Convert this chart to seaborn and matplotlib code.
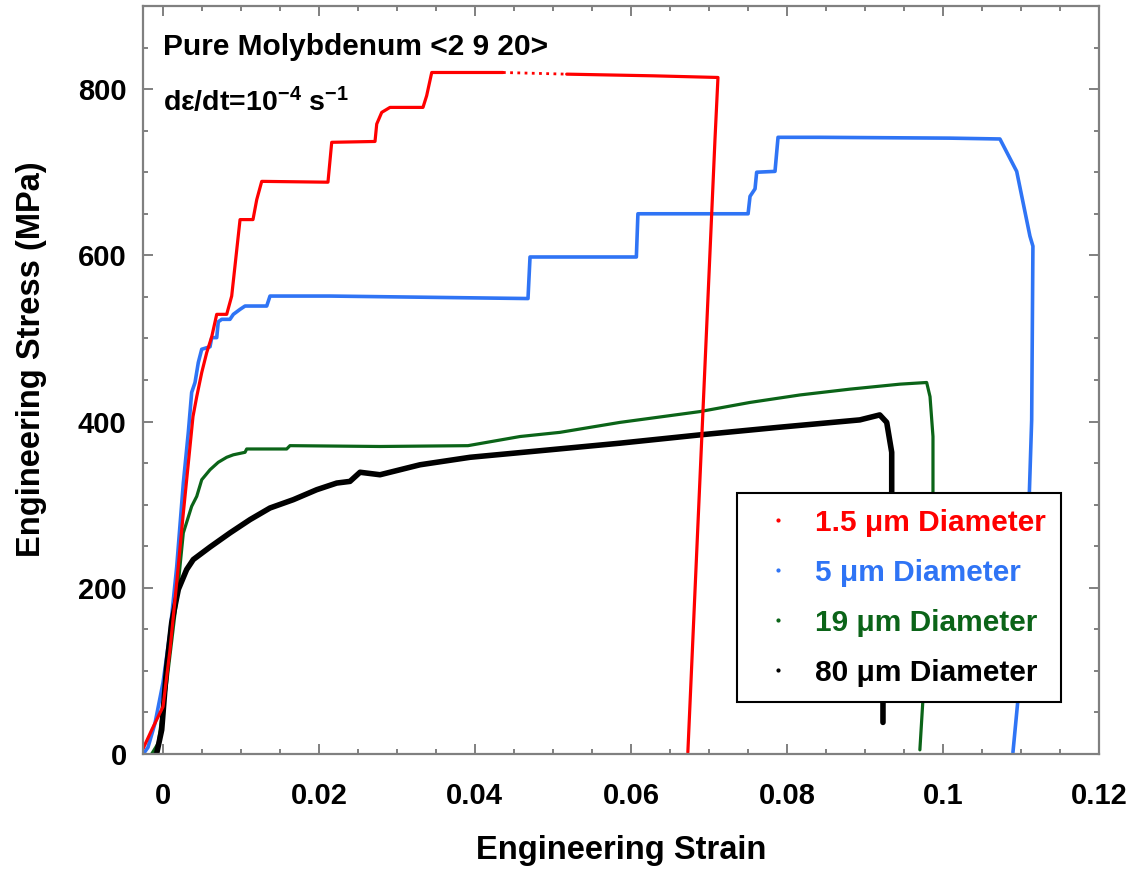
import matplotlib
matplotlib.use("Agg")
import matplotlib.pyplot as plt
from matplotlib.lines import Line2D
from matplotlib.ticker import MultipleLocator, FuncFormatter
import seaborn as sns

# Stress-strain data (engineering strain, engineering stress in MPa)
strain_1p5 = [-0.0025, -0.00142, 0.00003, 0.00092, 0.00178, 0.00259, 0.00323, 0.00387,
              0.00435, 0.00499, 0.00563, 0.00627, 0.00691, 0.00819, 0.00883, 0.00925,
              0.0099, 0.01156, 0.01204, 0.01268, 0.02117, 0.02165, 0.0272, 0.02742,
              0.02806, 0.02912, 0.03335, 0.03382, 0.03447, 0.03848, 0.0436]
stress_1p5 = [7, 29, 57, 125, 206, 286, 346, 406,
              430, 459, 483, 502, 529, 529, 551, 587,
              643, 643, 667, 689, 688, 736, 737, 758,
              772, 778, 778, 792, 820, 820, 820]
# sparse stretch of the 1.5 um record
strain_1p5_sparse = [0.0436, 0.05177]
stress_1p5_sparse = [820, 818]
strain_1p5_end = [0.05177, 0.06283, 0.07116, 0.07078, 0.0673]
stress_1p5_end = [818, 816, 814, 740, 2]

strain_5 = [-0.0025, -0.0019, -0.001, 0.00003, 0.00092, 0.00178, 0.00263, 0.00327,
            0.0037, 0.00413, 0.00455, 0.00499, 0.00605, 0.00627, 0.00691, 0.00711,
            0.00755, 0.00861, 0.00904, 0.0099, 0.01054, 0.01332, 0.01374, 0.02143,
            0.04681, 0.04707, 0.0607, 0.0609, 0.07502, 0.07527, 0.07591, 0.07612,
            0.07847, 0.07886, 0.08425, 0.1009, 0.1073, 0.10945, 0.11115, 0.11153,
            0.11137, 0.1108, 0.10985, 0.10897]
stress_5 = [0, 8, 37, 86, 146, 225, 326, 387,
            435, 447, 471, 487, 490, 501, 501, 520,
            523, 523, 529, 535, 539, 539, 551, 551,
            548, 598, 598, 650, 650, 671, 680, 700,
            701, 742, 742, 741, 740, 701, 623, 611,
            402, 234, 89, 2]

strain_19 = [-0.00143, -0.00058, 0.0005, 0.00178, 0.00263, 0.0037, 0.00435, 0.00499,
             0.00605, 0.00711, 0.00819, 0.00904, 0.01054, 0.01075, 0.01588, 0.0163,
             0.02784, 0.03912, 0.04579, 0.0509, 0.0586, 0.06885, 0.07526, 0.08167,
             0.08808, 0.09449, 0.09791, 0.09834, 0.09872, 0.09872, 0.09743, 0.09704]
stress_19 = [0, 13, 86, 186, 266, 298, 310, 330,
             342, 351, 357, 360, 363, 367, 367, 371,
             370, 371, 382, 387, 399, 412, 423, 432,
             439, 445, 447, 430, 382, 316, 65, 5]

strain_80 = [-0.0008, -0.00014, 0.0005, 0.00114, 0.00199, 0.00306, 0.00391, 0.00605,
             0.00861, 0.01118, 0.01374, 0.01673, 0.01973, 0.02229, 0.02399, 0.02528,
             0.02784, 0.03297, 0.03938, 0.0496, 0.05862, 0.06887, 0.07884, 0.08935,
             0.0919, 0.09279, 0.09343, 0.09343, 0.09231, 0.09231]
stress_80 = [0, 29, 105, 158, 198, 222, 234, 249,
             266, 282, 296, 306, 318, 326, 328, 339,
             336, 348, 357, 366, 374, 384, 393, 402,
             408, 399, 363, 316, 61, 38]

labels = ["1.5 \u03bcm Diameter", "5 \u03bcm Diameter", "19 \u03bcm Diameter", "80 \u03bcm Diameter"]
colors = ["#ff0000", "#2f74f5", "#0b6418", "#000000"]

sns.set_style("ticks")
plt.rcParams["font.family"] = ["Liberation Sans", "DejaVu Sans"]
plt.rcParams["font.weight"] = "bold"
plt.rcParams["text.color"] = "black"
plt.rcParams["axes.labelcolor"] = "black"
plt.rcParams["xtick.labelcolor"] = "black"
plt.rcParams["ytick.labelcolor"] = "black"
plt.rcParams["mathtext.fontset"] = "custom"
plt.rcParams["mathtext.rm"] = "Liberation Sans:bold"
plt.rcParams["mathtext.it"] = "Liberation Sans:bold"
plt.rcParams["mathtext.bf"] = "Liberation Sans:bold"

fig = plt.figure(figsize=(11.41, 8.73), dpi=100)
ax = fig.add_axes([0.12559, 0.13631, 0.83760, 0.85682])

lw = 2.3
sns.lineplot(x=strain_19, y=stress_19, color=colors[2], linewidth=lw, sort=False,
             estimator=None, ax=ax)
sns.lineplot(x=strain_5, y=stress_5, color=colors[1], linewidth=lw + 0.3, sort=False,
             estimator=None, ax=ax)
sns.lineplot(x=strain_80, y=stress_80, color=colors[3], linewidth=4.0, sort=False,
             estimator=None, ax=ax)
sns.lineplot(x=strain_1p5, y=stress_1p5, color=colors[0], linewidth=lw, sort=False,
             estimator=None, ax=ax)
sns.lineplot(x=strain_1p5_sparse, y=stress_1p5_sparse, color=colors[0], linewidth=2.0,
             linestyle=(0, (1, 1.6)), sort=False, estimator=None, ax=ax)
sns.lineplot(x=strain_1p5_end, y=stress_1p5_end, color=colors[0], linewidth=lw, sort=False,
             estimator=None, ax=ax)

ax.set_xlim(-0.0025, 0.12)
ax.set_ylim(0, 900)
ax.xaxis.set_major_locator(MultipleLocator(0.02))
ax.xaxis.set_minor_locator(MultipleLocator(0.005))
ax.yaxis.set_major_locator(MultipleLocator(200))
ax.yaxis.set_minor_locator(MultipleLocator(50))
ax.xaxis.set_major_formatter(FuncFormatter(lambda v, p: f"{round(v, 4):g}"))
ax.yaxis.set_major_formatter(FuncFormatter(lambda v, p: f"{v:g}"))

spine_c = "#808080"
for s in ax.spines.values():
    s.set_color(spine_c)
    s.set_linewidth(1.6)
    s.set_visible(True)
ax.tick_params(which="both", direction="in", top=True, right=True, color=spine_c, width=1.4)
ax.tick_params(which="major", length=7.2)
ax.tick_params(which="minor", length=3.6)
ax.tick_params(axis="x", which="major", pad=20, labelsize=21)
ax.tick_params(axis="y", which="major", pad=12, labelsize=21)
for t in ax.get_xticklabels() + ax.get_yticklabels():
    t.set_fontweight("bold")

ax.set_xlabel("Engineering Strain", fontsize=23.5, fontweight="bold", labelpad=18)
ax.set_ylabel("Engineering Stress (MPa)", fontsize=23.5, fontweight="bold")
ax.yaxis.set_label_coords(-0.1008, 0.528)

ax.text(0.021, 0.945, "Pure Molybdenum <2 9 20>", transform=ax.transAxes, fontsize=21.5,
        fontweight="bold", ha="left", va="center")
ax.text(0.021, 0.872, r"d$\varepsilon$/dt=10$^{-4}$ s$^{-1}$", transform=ax.transAxes,
        fontsize=20.5, fontweight="bold", ha="left", va="center")

handles = [Line2D([], [], marker=".", markersize=4, linestyle="none", color=c) for c in colors]
leg = ax.legend(handles, labels, loc="upper left", bbox_to_anchor=(0.6212, 0.3489),
                borderaxespad=0, frameon=True, fancybox=False, framealpha=1,
                edgecolor="black", labelcolor=colors, handlelength=1.71,
                handletextpad=0.385, borderpad=0.52, labelspacing=0.74,
                prop={"family": "Liberation Sans", "weight": "bold", "size": 21.5})
leg.get_frame().set_linewidth(1.5)

fig.savefig("out.png", dpi=100)
